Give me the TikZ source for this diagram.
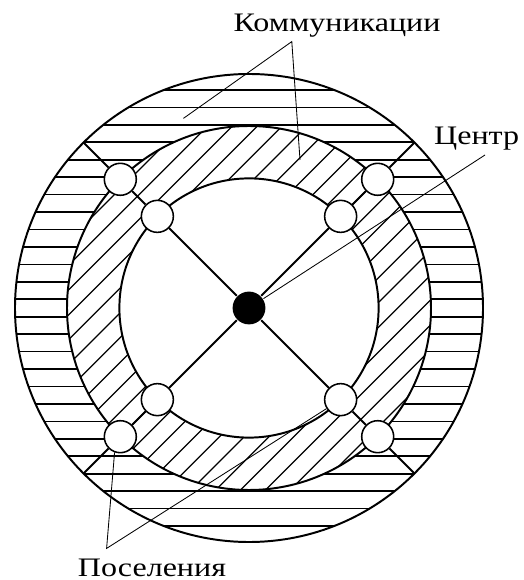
\documentclass[tikz,border=0pt]{standalone}
\usepackage{fontspec}
\setmainfont{Liberation Serif}
\newfontfamily\lblfont[FakeStretch=1.2]{Liberation Serif}
\usetikzlibrary{positioning}
\tikzset{
  every picture/.style={line width=1.2pt},
  ring/.style={line width=1.4pt},
  hatch/.style={line width=0.9pt},
  spoke/.style={line width=1.3pt},
  settle/.style={circle, draw, fill=white, minimum size=0.8cm, inner sep=0pt, line width=1.1pt},
  lead/.style={line width=0.6pt},
  lbl/.style={font=\lblfont\fontsize{19}{22}\selectfont, inner sep=0pt, anchor=base},
}

\begin{document}
\begin{tikzpicture}
  \useasboundingbox (-6.225,-6.8) rectangle (6.85,7.7);
  % outer ring: communications, horizontal hatching
  \begin{scope}[even odd rule]
    \clip (0,0) circle (5.85) (0,0) circle (4.55);
    \foreach \k in {-13,...,12}
      \draw[hatch, line width=1.2pt] (-6,{(\k+0.5)*0.436}) -- (6,{(\k+0.5)*0.436});
  \end{scope}
  % middle ring: settlement belt, diagonal hatching
  \begin{scope}[even odd rule]
    \clip (0,0) circle (4.55) (0,0) circle (3.24);
    \foreach \k in {-11,...,11}
      \draw[hatch] (-5,{-5+\k*0.62}) -- (5,{5+\k*0.62});
  \end{scope}
  % rings
  \draw[ring] (0,0) circle (5.85);
  \draw[ring] (0,0) circle (4.55);
  \draw[ring] (0,0) circle (3.24);
  % centre and settlements on the spokes
  \node[circle, fill=black, minimum size=0.82cm, inner sep=0pt] (dot) at (0,0) {};
  \foreach \a in {45,135,225,315} {
    \node[settle] (si\a) at (\a:3.24) {};
    \node[settle] (so\a) at (\a:4.55) {};
    \coordinate (e\a) at (\a:5.85);
    \draw[spoke] (dot) -- (si\a) -- (so\a) -- (e\a);
  }
  % labels
  \node[lbl] (komm) at (2.2,6.9) {Коммуникации};
  \node[lbl] (cent) at (5.69,4.075) {Центр};
  \node[lbl] (pos) at (-2.425,-6.7) {Поселения};
  % leader lines
  \coordinate (k0) at (1.07,6.66);
  \coordinate (k1) at (-1.64,4.74);
  \coordinate (k2) at (1.275,3.70);
  \draw[lead] (k1) -- (k0) -- (k2);
  \coordinate (c0) at (5.9,3.825);
  \draw[lead] (c0) -- (dot);
  \coordinate (p0) at (-3.56,-6.01);
  \draw[lead] (so225.250) -- (p0) -- (si315);
\end{tikzpicture}
\end{document}
